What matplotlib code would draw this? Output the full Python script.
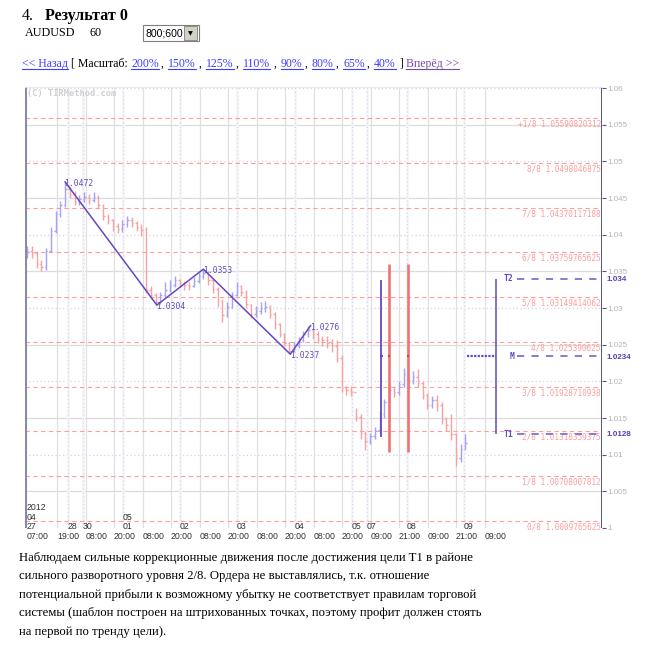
import matplotlib
matplotlib.use("Agg")
import matplotlib.pyplot as plt
import matplotlib.transforms as mtransforms
from matplotlib.lines import Line2D
from matplotlib.patches import Rectangle
import numpy as np

FIG_W, FIG_H = 655, 657

# AUDUSD, bars every 2 hours starting 27.04.2012 07:00 (x axis = hours)
bar_step_hours = 2
first_open = 1.0372
closes = [1.0378, 1.0375, 1.0360, 1.0356, 1.0378, 1.0405, 1.0428, 1.0440, 1.0462, 1.0455,
          1.0445, 1.0448, 1.0452, 1.0447, 1.0452, 1.0440, 1.0425, 1.0420, 1.0412, 1.0408,
          1.0414, 1.0420, 1.0416, 1.0410, 1.0406, 1.0325, 1.0318, 1.0308, 1.0318, 1.0325,
          1.0332, 1.0338, 1.0334, 1.0331, 1.0330, 1.0337, 1.0344, 1.0348, 1.0338, 1.0326,
          1.0310, 1.0290, 1.0302, 1.0318, 1.0330, 1.0322, 1.0305, 1.0292, 1.0296, 1.0300,
          1.0302, 1.0292, 1.0278, 1.0264, 1.0252, 1.0242, 1.0250, 1.0256, 1.0264, 1.0270,
          1.0264, 1.0258, 1.0256, 1.0252, 1.0248, 1.0232, 1.0192, 1.0188, 1.0186, 1.0152,
          1.0130, 1.0118, 1.0126, 1.0134, 1.0155, 1.0172, 1.0188, 1.0186, 1.0196, 1.0210,
          1.0200, 1.0206, 1.0198, 1.0182, 1.0168, 1.0174, 1.0168, 1.0148, 1.0140, 1.0128,
          1.0096, 1.0108, 1.0116]
highs = [1.0384, 1.0385, 1.0378, 1.0366, 1.0382, 1.0410, 1.0432, 1.0446, 1.0472, 1.0466,
         1.0460, 1.0454, 1.0458, 1.0455, 1.0458, 1.0454, 1.0442, 1.0428, 1.0422, 1.0416,
         1.0420, 1.0426, 1.0424, 1.0418, 1.0414, 1.0410, 1.0330, 1.0320, 1.0322, 1.0336,
         1.0338, 1.0343, 1.0340, 1.0337, 1.0336, 1.0342, 1.0348, 1.0353, 1.0350, 1.0340,
         1.0328, 1.0312, 1.0308, 1.0322, 1.0336, 1.0332, 1.0324, 1.0306, 1.0303, 1.0308,
         1.0310, 1.0304, 1.0294, 1.0280, 1.0266, 1.0254, 1.0254, 1.0260, 1.0268, 1.0276,
         1.0272, 1.0268, 1.0262, 1.0262, 1.0258, 1.0256, 1.0236, 1.0194, 1.0193, 1.0164,
         1.0156, 1.0132, 1.0130, 1.0138, 1.0160, 1.0176, 1.0192, 1.0194, 1.0200, 1.0218,
         1.0212, 1.0214, 1.0217, 1.0200, 1.0184, 1.0180, 1.0182, 1.0172, 1.0152, 1.0155,
         1.0130, 1.0115, 1.0128]
lows = [1.0368, 1.0368, 1.0355, 1.0350, 1.0352, 1.0376, 1.0402, 1.0424, 1.0438, 1.0450,
        1.0440, 1.0440, 1.0444, 1.0442, 1.0444, 1.0436, 1.0420, 1.0414, 1.0405, 1.0402,
        1.0404, 1.0410, 1.0410, 1.0405, 1.0398, 1.0320, 1.0312, 1.0304, 1.0306, 1.0315,
        1.0322, 1.0328, 1.0328, 1.0325, 1.0324, 1.0328, 1.0334, 1.0340, 1.0332, 1.0320,
        1.0302, 1.0281, 1.0288, 1.0300, 1.0316, 1.0316, 1.0300, 1.0286, 1.0288, 1.0292,
        1.0294, 1.0286, 1.0272, 1.0260, 1.0248, 1.0237, 1.0240, 1.0246, 1.0254, 1.0260,
        1.0258, 1.0252, 1.0248, 1.0246, 1.0240, 1.0226, 1.0186, 1.0182, 1.0180, 1.0146,
        1.0122, 1.0107, 1.0114, 1.0122, 1.0130, 1.0150, 1.0170, 1.0178, 1.0182, 1.0192,
        1.0195, 1.0196, 1.0192, 1.0176, 1.0162, 1.0164, 1.0160, 1.0142, 1.0132, 1.0120,
        1.0085, 1.0090, 1.0108]

zigzag_hours = [16, 54.5, 74, 110.5, 119]
zigzag_prices = [1.0472, 1.0304, 1.0353, 1.0237, 1.0276]
zigzag_labels = ["1.0472", "1.0304", "1.0353", "1.0237", "1.0276"]

level_names = ["+1/8", "8/8", "7/8", "6/8", "5/8", "4/8", "3/8", "2/8", "1/8", "0/8"]
level_texts = ["1.05590820312", "1.0498046875", "1.04370117188", "1.03759765625",
               "1.03149414062", "1.025390625", "1.01928710938", "1.01318359375",
               "1.00708007812", "1.0009765625"]
level_values = [float(t) for t in level_texts]

target_names = ["T2", "M", "T1"]
target_texts = ["1.034", "1.0234", "1.0128"]
target_values = [float(t) for t in target_texts]

# signal verticals (hour, top, bottom)
signal_purple = (148.6, 1.0338, 1.0124)
signal_red = [(151.9, 1.0360, 1.0104), (159.9, 1.0360, 1.0104)]
pattern_hour_start, pattern_hour_end = 184.6, 197.0

time_hours = [0, 12.6, 24.8, 36.5, 48.7, 60.4, 72.6, 84.3, 96.5, 108.3, 120.4, 132.2,
              144.4, 156.1, 168.3, 180.0, 192.2]
time_labels = ["07:00", "19:00", "08:00", "20:00", "08:00", "20:00", "08:00", "20:00",
               "08:00", "20:00", "08:00", "20:00", "09:00", "21:00", "09:00", "21:00", "09:00"]
day_hours = [0, 17.2, 23.5, 40.3, 64.2, 88.1, 112.4, 136.3, 142.6, 159.4, 183.3]
day_labels = ["27", "28", "30", "01", "02", "03", "04", "05", "07", "08", "09"]
month_hours = [0, 40.3]
month_labels = ["04", "05"]

PURPLE = "#6448c0"
LEVEL = "#ff9c9c"
GRAY_TXT = "#b4b4b4"


def fx(x):
    return x / FIG_W


def fy(y):
    return 1 - y / FIG_H


fig = plt.figure(figsize=(FIG_W / 100, FIG_H / 100), dpi=100)
ax = fig.add_axes([fx(25), fy(528), fx(602) - fx(25), fy(87) - fy(528)])
ax.set_xlim(-0.84, 241.3)
ax.set_ylim(1.0, 1.06014)
for s in ax.spines.values():
    s.set_visible(False)
ax.set_xticks([])
yticks = np.round(np.arange(1.0, 1.0601, 0.005), 3)
ax.set_yticks(yticks)
ax.set_yticklabels([f"{v:.3f}".rstrip("0").rstrip(".") for v in yticks])
ax.yaxis.tick_right()
ax.tick_params(axis="y", length=3, width=0.8, color="#55557a", pad=1,
               labelsize=5.8, labelcolor=GRAY_TXT)
for lab in ax.get_yticklabels():
    lab.set_family("Liberation Sans")

# grid
for v in yticks[1:]:
    k = int(round((v - 1) / 0.005))
    if k % 2:
        ax.axhline(v, color="#dcdcdc", lw=0.9, zorder=0)
    else:
        ax.axhline(v, color="#d4d4e0", lw=0.9, ls=(0, (1, 2)), zorder=0)
for h in time_hours[1:]:
    ax.axvline(h, color="#e0e0e0", lw=0.9, zorder=0)
for h in day_hours[1:]:
    ax.axvline(h, color="#f5f5fa", lw=2.0, zorder=0)
    ax.axvline(h, color="#d8d8e4", lw=0.8, ls=(0, (1, 2.5)), zorder=0)

# borders
ax.axvline(-0.84, color="#8a8aa2", lw=2.2, zorder=3)
ax.axvline(241.3, color="#55557a", lw=1.4, zorder=3)
ax.axhline(1.06014, color="#e6e6f2", lw=1.2, zorder=3)

# Murrey levels
ytrans = mtransforms.blended_transform_factory(ax.transAxes, ax.transData)
for name, txt, v in zip(level_names, level_texts, level_values):
    ax.axhline(v, color=LEVEL, lw=0.8, ls=(0, (4, 3)), zorder=1)
    ax.text(0.998, v - 0.0002, f"{name} {txt}", transform=ytrans, ha="right", va="top",
            fontsize=5.6, color=LEVEL, family="DejaVu Sans Mono", zorder=2)

# price bars
bar_x = np.arange(len(closes)) * bar_step_hours
opens = [first_open] + closes[:-1]
colors = ["#a3a3f7" if c >= o else "#f7a3a3" for o, c in zip(opens, closes)]
ax.vlines(bar_x, lows, highs, colors=colors, lw=1, zorder=2)
ax.hlines(opens, bar_x - 0.6, bar_x, colors=colors, lw=1, zorder=2)
ax.hlines(closes, bar_x, bar_x + 0.6, colors=colors, lw=1, zorder=2)

# zigzag
ax.plot(zigzag_hours, zigzag_prices, color=PURPLE, lw=1.1, zorder=4)
for h, p, t in zip(zigzag_hours, zigzag_prices, zigzag_labels):
    ax.annotate(t, (h, p), xytext=(-0.5, -1), textcoords="offset points", ha="left",
                va="center", fontsize=5.8, color=PURPLE, family="DejaVu Sans Mono", zorder=5)

# signals
m_val = target_values[1]
h, top, bot = signal_purple
ax.vlines(h, bot, top, color=PURPLE, lw=1.3, zorder=4)
ax.hlines(m_val, h - 0.5, h + 0.9, color=PURPLE, lw=1.5, zorder=5)
for h, top, bot in signal_red:
    ax.vlines(h, bot, top, color="#f27272", lw=1.9, zorder=4)
    ax.hlines(m_val, h - 0.6, h + 0.6, color="#c84a4a", lw=1.5, zorder=5)

# targets
ax.hlines(m_val, pattern_hour_start, pattern_hour_end, color=PURPLE, lw=1.6,
          ls=(0, (1, 0.6)), zorder=4)
ax.vlines(196.8, target_values[2], target_values[0], color=PURPLE, lw=1.1, zorder=4)
label_hours = [200.2, 202.7, 200.2]
for name, txt, v, lh in zip(target_names, target_texts, target_values, label_hours):
    ax.hlines(v, 205.6, 239.2, color="#8070d2", lw=1.3, ls=(0, (4, 4)), zorder=4)
    ax.text(lh, v, name, ha="left", va="center", fontsize=5.8, color=PURPLE,
            family="DejaVu Sans Mono", weight="bold", zorder=5)
    ax.text(1.007, v - 0.0001, txt, transform=ytrans, ha="left", va="center", fontsize=5.8,
            color="#5a3fb0", family="Liberation Sans", weight="bold")

# copyright
ax.text(0.004, 0.986, "(C) TIRMethod.com", transform=ax.transAxes, ha="left", va="center",
        fontsize=6.2, color="#cfcfcf", family="DejaVu Sans Mono", weight="bold")

# time axis labels
xtrans = mtransforms.blended_transform_factory(ax.transData, fig.transFigure)
tkw = dict(transform=xtrans, ha="left", va="center", fontsize=6.3, color="#333333",
           family="Liberation Sans")
ax.text(0, fy(507), "2012", **tkw)
for h, t in zip(month_hours, month_labels):
    ax.text(h, fy(517), t, **tkw)
for h, t in zip(day_hours, day_labels):
    ax.text(h, fy(526.5), t, **tkw)
for h, t in zip(time_hours, time_labels):
    ax.text(h, fy(536.5), t, clip_on=False, **tkw)

# page header
serif = "Liberation Serif"
fig.text(fx(22), fy(16), "4.", fontsize=11.5, family=serif, va="center")
fig.text(fx(45), fy(16), "Результат 0", fontsize=11.5, family=serif, weight="bold", va="center")
fig.text(fx(25), fy(33), "AUDUSD", fontsize=8.7, family=serif, va="center")
fig.text(fx(90), fy(33), "60", fontsize=8.7, family=serif, va="center")
fig.add_artist(Rectangle((fx(143), fy(41)), fx(56), 16 / FIG_H, transform=fig.transFigure,
                         facecolor="white", edgecolor="#7f7f7f", lw=0.8))
fig.add_artist(Rectangle((fx(184), fy(40)), fx(13), 14 / FIG_H, transform=fig.transFigure,
                         facecolor="#d4d0c8", edgecolor="#808080", lw=0.6))
fig.text(fx(146), fy(33.5), "800;600", fontsize=7.6, family="Liberation Sans", va="center")
fig.text(fx(190.5), fy(33.5), "▼", fontsize=4.5, family="DejaVu Sans", va="center", ha="center")

LINK = "#3d3dff"
VISITED = "#7a4aa8"
nav = [("<< Назад", 22, LINK), ("[ Масштаб:", 71, "black"), ("200%", 131, LINK),
       (",", 161, "black"), ("150%", 168, LINK), (",", 199, "black"), ("125%", 206, LINK),
       (",", 236, "black"), ("110%", 243, LINK), (",", 274, "black"), ("90%", 281, LINK),
       (",", 305, "black"), ("80%", 312, LINK), (",", 336, "black"), ("65%", 343, LINK),
       (",", 367, "black"), ("40%", 374, LINK), ("]", 400, "black"), ("Вперёд >>", 406, VISITED)]
nav_texts = []
for t, x, c in nav:
    nav_texts.append((fig.text(fx(x), fy(67), t, fontsize=8.5, family=serif, color=c,
                               va="baseline"), c))

# paragraph
para = ["Наблюдаем сильные коррекционные движения после достижения цели T1 в районе",
        "сильного разворотного уровня 2/8. Ордера не выставлялись, т.к. отношение",
        "потенциальной прибыли к возможному убытку не соответствует правилам торговой",
        "системы (шаблон построен на штрихованных точках, поэтому профит должен стоять",
        "на первой по тренду цели)."]
for i, line in enumerate(para):
    fig.text(fx(19), fy(561 + 18.4 * i), line, fontsize=9.2, family=serif, va="baseline")

fig.canvas.draw()
renderer = fig.canvas.get_renderer()
for t, c in nav_texts:
    if c == "black":
        continue
    bb = t.get_window_extent(renderer)
    fig.add_artist(Line2D([bb.x0 / FIG_W, bb.x1 / FIG_W], [fy(68.5), fy(68.5)],
                          transform=fig.transFigure, color=c, lw=0.8))

fig.savefig("out.png", dpi=100)
